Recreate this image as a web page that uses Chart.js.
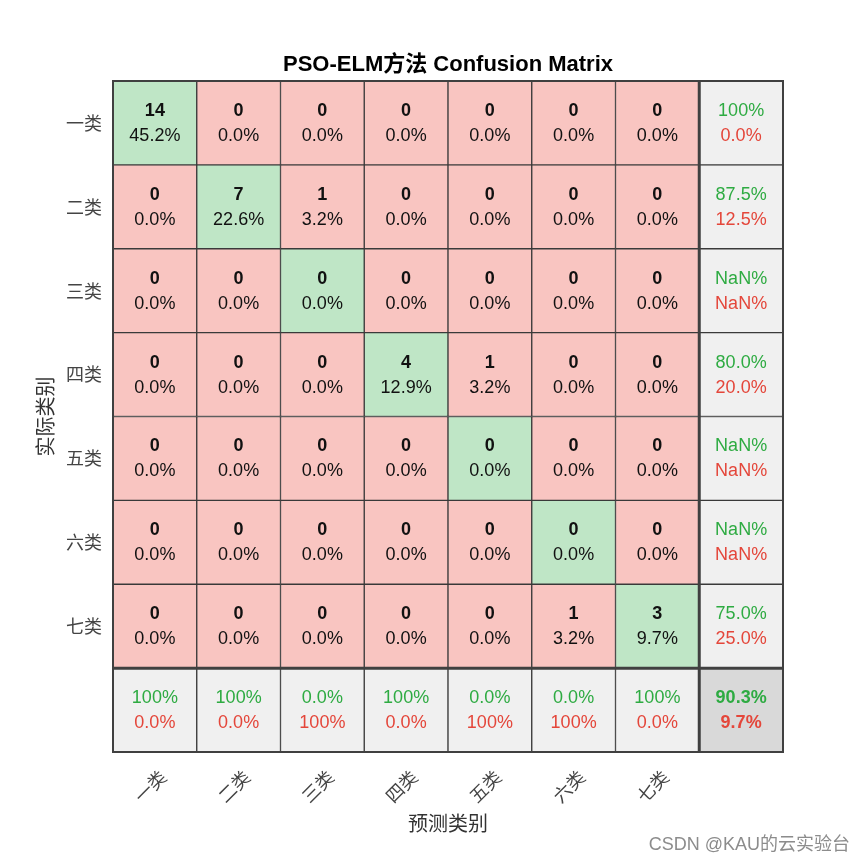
<!DOCTYPE html>
<html>
<head>
<meta charset="utf-8">
<script src="https://cdn.jsdelivr.net/npm/chart.js@4.4.1/dist/chart.umd.min.js"></script>
<style>
  body { margin: 0; background: #fff; }
  #wrap { width: 865px; height: 865px; }
</style>
</head>
<body>
<div id="wrap"><canvas id="cm" width="865" height="865"></canvas></div>
<script>
// class names (predicted along x, actual along y)
const classLabels = ["一类", "二类", "三类", "四类", "五类", "六类", "七类"];
// confusion counts, row = actual, column = predicted
const counts = [
  [14, 0, 0, 0, 0, 0, 0],
  [0, 7, 1, 0, 0, 0, 0],
  [0, 0, 0, 0, 0, 0, 0],
  [0, 0, 0, 4, 1, 0, 0],
  [0, 0, 0, 0, 0, 0, 0],
  [0, 0, 0, 0, 0, 0, 0],
  [0, 0, 0, 0, 0, 1, 3]
];
const chartTitle = "PSO-ELM方法 Confusion Matrix";
const xTitle = "预测类别";
const yTitle = "实际类别";
const watermark = "CSDN @KAU的云实验台";

const n = classLabels.length;
const total = counts.flat().reduce((a, b) => a + b, 0);
const GREEN = "#bfe6c6", RED = "#f9c5c1", GRAY = "#f0f0f0", CORNER = "#d9d9d9";
const GREEN_TXT = "#2eab42", RED_TXT = "#e4463a";

function fmtPct(v) {
  if (v === 100) return "100%";
  return v.toFixed(1) + "%";
}

// one dataset per row, floating bars [r, r+1] in every column
const datasets = [];
for (let r = 0; r <= n; r++) {
  const colors = [];
  for (let c = 0; c <= n; c++) {
    if (r === n && c === n) colors.push(CORNER);
    else if (r === n || c === n) colors.push(GRAY);
    else colors.push(r === c ? GREEN : RED);
  }
  datasets.push({
    data: colors.map(() => [r, r + 1]),
    backgroundColor: colors,
    borderColor: "#3a3a3a",
    borderWidth: 1,
    borderSkipped: false,
    grouped: false,
    barPercentage: 1,
    categoryPercentage: 1
  });
}

// texts inside the cells + title, thick separators, watermark
const cellText = {
  id: "cellText",
  afterDatasetsDraw(chart) {
    const ctx = chart.ctx;
    const xs = chart.scales.x, ys = chart.scales.y;
    const area = chart.chartArea;
    ctx.save();
    ctx.textAlign = "center";
    ctx.textBaseline = "middle";
    for (let r = 0; r <= n; r++) {
      for (let c = 0; c <= n; c++) {
        const cx = xs.getPixelForValue(c);
        const cy = ys.getPixelForValue(r + 0.5);
        if (r < n && c < n) {
          ctx.font = "bold 18px Arial, 'Liberation Sans'";
          ctx.fillStyle = "#111";
          ctx.fillText(String(counts[r][c]), cx, cy - 12);
          ctx.font = "18px Arial, 'Liberation Sans'";
          ctx.fillText(fmtPct(counts[r][c] / total * 100), cx, cy + 13);
          continue;
        }
        let ok, bold = false;
        if (r < n) {
          const s = counts[r].reduce((a, b) => a + b, 0);
          ok = counts[r][r] / s * 100;
        } else if (c < n) {
          const s = counts.reduce((a, row) => a + row[c], 0);
          ok = counts[c][c] / s * 100;
        } else {
          let d = 0;
          for (let i = 0; i < n; i++) d += counts[i][i];
          ok = d / total * 100;
          bold = true;
        }
        ctx.font = (bold ? "bold " : "") + "18px Arial, 'Liberation Sans'";
        ctx.fillStyle = GREEN_TXT;
        ctx.fillText(isNaN(ok) ? "NaN%" : fmtPct(ok), cx, cy - 12);
        ctx.fillStyle = RED_TXT;
        ctx.fillText(isNaN(ok) ? "NaN%" : fmtPct(100 - ok), cx, cy + 13);
      }
    }
    // thick separators before the summary row/column
    const sepX = (xs.getPixelForValue(n - 1) + xs.getPixelForValue(n)) / 2;
    const sepY = ys.getPixelForValue(n);
    ctx.strokeStyle = "#404040";
    ctx.lineWidth = 3;
    ctx.beginPath();
    ctx.moveTo(sepX, area.top);
    ctx.lineTo(sepX, area.bottom);
    ctx.moveTo(area.left, sepY);
    ctx.lineTo(area.right, sepY);
    ctx.stroke();
    ctx.lineWidth = 2;
    ctx.strokeRect(area.left, area.top, area.right - area.left, area.bottom - area.top);

    // title
    ctx.fillStyle = "#000";
    ctx.font = "bold 22px Arial, 'Liberation Sans', 'Noto Sans CJK SC'";
    ctx.fillText(chartTitle, (area.left + area.right) / 2, 65);
    // watermark
    ctx.textAlign = "right";
    ctx.fillStyle = "#8c8c8c";
    ctx.font = "18px Arial, 'Liberation Sans', 'Noto Sans CJK SC'";
    ctx.fillText(watermark, 850, 845);
    ctx.restore();
  }
};

new Chart(document.getElementById("cm"), {
  type: "bar",
  data: {
    labels: classLabels.concat([""]),
    datasets: datasets
  },
  options: {
    responsive: false,
    animation: false,
    layout: { padding: { top: 81, right: 82, left: 33, bottom: 30 } },
    plugins: {
      legend: { display: false },
      tooltip: { enabled: false }
    },
    scales: {
      x: {
        type: "category",
        grid: { display: false },
        border: { display: false },
        afterFit: (scale) => { scale.height = 865 - 30 - 752; },
        ticks: {
          color: "#444",
          minRotation: 45,
          maxRotation: 45,
          padding: 6,
          labelOffset: 8,
          font: { family: "'Noto Sans CJK SC'", size: 18 }
        },
        title: {
          display: true,
          text: xTitle,
          color: "#333",
          padding: 0,
          font: { family: "'Noto Sans CJK SC'", size: 20 }
        }
      },
      y: {
        type: "linear",
        min: 0,
        max: n + 1,
        reverse: true,
        grid: { display: false },
        border: { display: false },
        afterFit: (scale) => { scale.width = 113 - 33; },
        afterBuildTicks: (scale) => {
          scale.ticks = classLabels.map((_, i) => ({ value: i + 0.5 }));
        },
        ticks: {
          color: "#444",
          padding: 3,
          font: { family: "'Noto Sans CJK SC'", size: 18 },
          callback: (v) => classLabels[Math.floor(v)]
        },
        title: {
          display: true,
          text: yTitle,
          color: "#333",
          padding: 0,
          font: { family: "'Noto Sans CJK SC'", size: 20 }
        }
      }
    }
  },
  plugins: [cellText]
});
</script>
</body>
</html>
